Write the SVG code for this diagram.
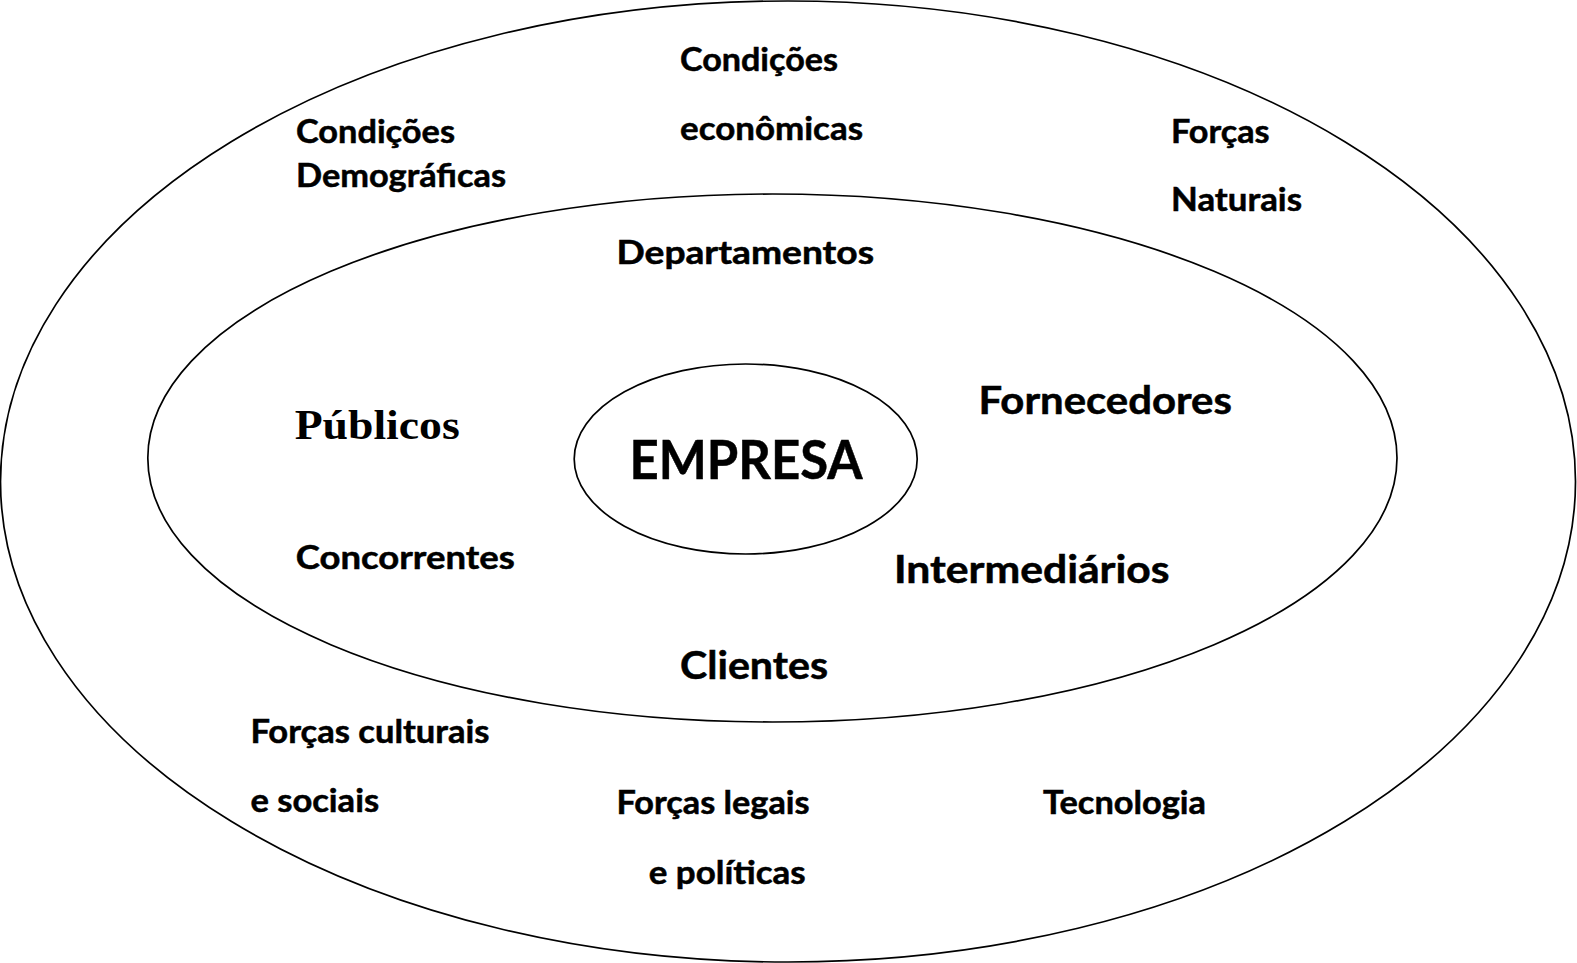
<svg xmlns="http://www.w3.org/2000/svg" width="1577" height="963" viewBox="0 0 1577 963">
<style>
.ring{fill:none;stroke:#000;stroke-width:1.7}
.t{font-family:Lato,"Open Sans","Liberation Sans",sans-serif;font-weight:bold;fill:#000;stroke:#000;stroke-width:0.5}
.s{font-size:31.5px}
.m{font-size:37.5px}
.l{font-size:53px}
.serif{font-family:"Liberation Serif","DejaVu Serif",serif;font-weight:bold;font-size:43px;fill:#000}
</style>
<rect width="1577" height="963" fill="#fff"/>
<g id="outer">
<ellipse class="ring" cx="788" cy="481.5" rx="787.5" ry="480.5"/>
<text class="t s" x="680" y="71" textLength="158" lengthAdjust="spacingAndGlyphs">Condições</text>
<text class="t s" x="680" y="139.5" textLength="183" lengthAdjust="spacingAndGlyphs">econômicas</text>
<text class="t s" x="296" y="142.5" textLength="159" lengthAdjust="spacingAndGlyphs">Condições</text>
<text class="t s" x="296" y="186.5" textLength="210" lengthAdjust="spacingAndGlyphs">Demográficas</text>
<text class="t s" x="1171" y="142.5" textLength="98.6" lengthAdjust="spacingAndGlyphs">Forças</text>
<text class="t s" x="1171" y="210.5" textLength="131" lengthAdjust="spacingAndGlyphs">Naturais</text>
<text class="t s" x="250.4" y="742.5" textLength="239" lengthAdjust="spacingAndGlyphs">Forças culturais</text>
<text class="t s" x="250.4" y="812" textLength="128.7" lengthAdjust="spacingAndGlyphs">e sociais</text>
<text class="t s" x="616.5" y="814" textLength="193" lengthAdjust="spacingAndGlyphs">Forças legais</text>
<text class="t s" x="648.7" y="883.5" textLength="157" lengthAdjust="spacingAndGlyphs">e políticas</text>
<text class="t s" x="1043" y="814" textLength="163" lengthAdjust="spacingAndGlyphs">Tecnologia</text>
</g>
<g id="inner">
<ellipse class="ring" cx="772.4" cy="458" rx="624.6" ry="264"/>
<text class="t s" x="616.5" y="264" textLength="257.5" lengthAdjust="spacingAndGlyphs">Departamentos</text>
<text class="serif" x="294.7" y="439" textLength="165" lengthAdjust="spacingAndGlyphs">Públicos</text>
<text class="t m" x="978.5" y="413.5" textLength="253.4" lengthAdjust="spacingAndGlyphs">Fornecedores</text>
<text class="t s" x="295.7" y="568.5" textLength="219" lengthAdjust="spacingAndGlyphs">Concorrentes</text>
<text class="t m" x="894" y="582.5" textLength="275.6" lengthAdjust="spacingAndGlyphs">Intermediários</text>
<text class="t m" x="680" y="678.5" textLength="148" lengthAdjust="spacingAndGlyphs">Clientes</text>
</g>
<g id="empresa">
<ellipse class="ring" cx="745.7" cy="459" rx="171.5" ry="95"/>
<text class="t l" x="629.6" y="479" textLength="233" lengthAdjust="spacingAndGlyphs">EMPRESA</text>
</g>
<g id="connectors"/>
</svg>
